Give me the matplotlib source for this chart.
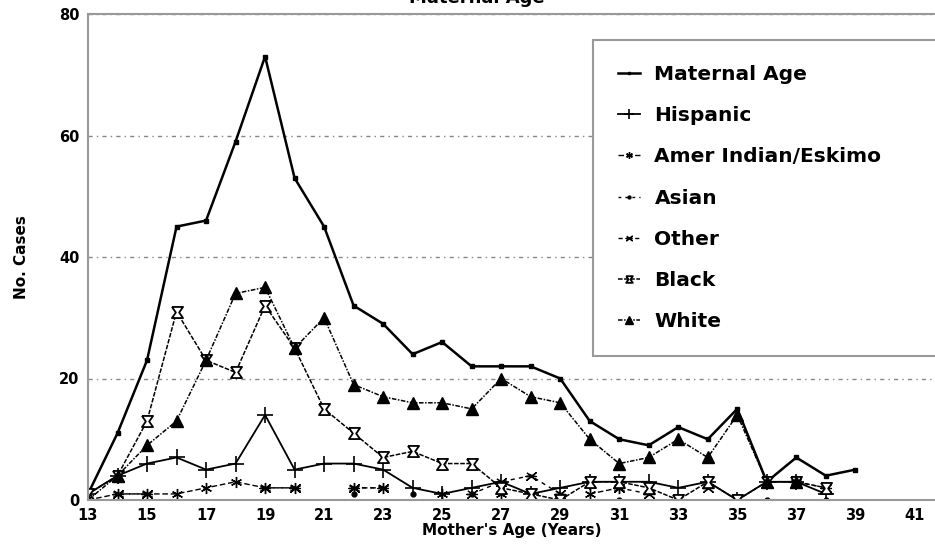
import numpy as np
import matplotlib
matplotlib.use('Agg')
import matplotlib.pyplot as plt

nan = np.nan
ages = list(range(13, 40))

maternal = [1, 11, 23, 45, 46, 59, 73, 53, 45, 32, 29, 24, 26, 22, 22, 22, 20, 13, 10, 9, 12, 10, 15, 3, 7, 4, 5]
hispanic = [1, 4, 6, 7, 5, 6, 14, 5, 6, 6, 5, 2, 1, 2, 3, 1, 2, 3, 3, 3, 2, 3, 0, 3, 3, 1, nan]
amer = [0, 1, 1, 1, 2, 3, 2, 2, nan, 2, 2, nan, 1, nan, 1, nan, nan, 1, 2, nan, nan, nan, nan, nan, 3, nan, nan]
asian = [nan, nan, nan, nan, nan, nan, nan, nan, nan, 1, nan, 1, nan, 1, nan, 0, nan, nan, 0, nan, nan, nan, 0, 0, nan, 0, nan]
other = [nan, 1, 1, nan, nan, nan, 2, 2, nan, 2, 2, nan, nan, 1, 3, 4, 1, nan, 2, 1, nan, 2, nan, nan, 3, 2, nan]
black = [1, 4, 13, 31, 23, 21, 32, 25, 15, 11, 7, 8, 6, 6, 2, 1, 0, 3, 3, 2, 0, 3, 0, 3, 3, 2, nan]
white = [0, 4, 9, 13, 23, 34, 35, 25, 30, 19, 17, 16, 16, 15, 20, 17, 16, 10, 6, 7, 10, 7, 14, 3, 3, nan, nan]

labels = ['Maternal Age', 'Hispanic', 'Amer Indian/Eskimo', 'Asian', 'Other', 'Black', 'White']

# hourglass-ish marker used for Black, bowtie for Other
hourglass = [(-1, 1), (1, 1), (0.3, 0), (1, -1), (-1, -1), (-0.3, 0), (-1, 1)]
bowtie = [(-1, 0.8), (0, 0), (-1, -0.8), (0, 0), (1, 0.8), (0, 0), (1, -0.8), (0, 0), (-1.2, 0), (1.2, 0)]

font = {'family': 'DejaVu Sans', 'weight': 'bold', 'size': 10}
matplotlib.rc('font', **font)

fig = plt.figure(figsize=(9.35, 5.56), dpi=100)
ax = fig.add_axes([88/935, 56/556, 1 - 88/935, (542-56)/556])

ax.plot(ages, maternal, color='k', lw=1.8, marker='s', ms=3.5, label=labels[0])
ax.plot(ages, hispanic, color='k', lw=1.3, marker='+', ms=12, mew=1.2, label=labels[1])
ax.plot(ages, amer, color='k', lw=1.0, ls=(0, (4, 2)), marker=(6, 2, 0), ms=8, mew=1.0, label=labels[2])
ax.plot(ages, asian, color='k', lw=1.0, ls=(0, (2, 3)), marker='o', ms=3.5, label=labels[3])
ax.plot(ages, other, color='k', lw=1.0, ls=(0, (3, 3)), marker=bowtie, ms=8, mew=1.0, label=labels[4])
ax.plot(ages, black, color='k', lw=1.1, ls=(0, (3, 1)), marker=hourglass, ms=8, mew=1.3,
        mfc='white', label=labels[5])
ax.plot(ages, white, color='k', lw=1.1, ls=(0, (3, 1, 1, 1)), marker='^', ms=9, label=labels[6])

ax.set_xlim(13, 41.7)
ax.set_ylim(0, 80)
ax.set_xticks(range(13, 42, 2))
ax.set_yticks([0, 20, 40, 60, 80])
ax.tick_params(length=0, pad=6, labelsize=10.5)
ax.yaxis.grid(True, color='#888888', ls=(0, (3, 3, 1, 3)), lw=1)
ax.set_axisbelow(True)
for s in ['left', 'bottom', 'top']:
    ax.spines[s].set_color('#999999')
    ax.spines[s].set_linewidth(1.5)
ax.spines['right'].set_visible(False)

ax.set_xlabel("Mother's Age (Years)", fontsize=11, fontweight='bold', labelpad=0)
ax.set_ylabel('No. Cases', fontsize=11, fontweight='bold', labelpad=22)
fig.text(477/935, 1 - 7/556, 'Maternal Age', ha='center', va='bottom', fontsize=13, fontweight='bold')

leg = ax.legend(loc='upper left', bbox_to_anchor=(593/935, (556-352)/556, 0.6, (352-40)/556),
                bbox_transform=fig.transFigure, mode='expand', fontsize=14.5, frameon=True,
                fancybox=False, handlelength=1.1, handletextpad=0.7, labelspacing=1.1,
                borderpad=1.25, borderaxespad=0, markerscale=0.6)
leg.get_frame().set_edgecolor('#999999')
leg.get_frame().set_linewidth(1.5)
leg.get_frame().set_alpha(1)

fig.savefig('out.png', dpi=100)
